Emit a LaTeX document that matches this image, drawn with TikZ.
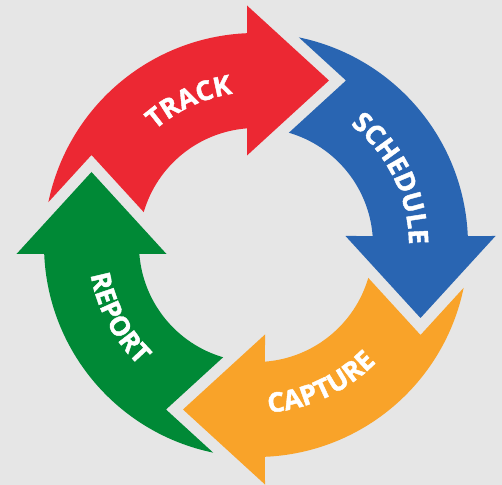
\documentclass[tikz,border=0pt]{standalone}
\usepackage{fontspec}
\setmainfont{Open Sans}[BoldFeatures={FakeBold=1.6}]
\usetikzlibrary{decorations.text}

\definecolor{trackred}{RGB}{236,40,51}
\definecolor{scheduleblue}{RGB}{41,101,178}
\definecolor{captureorange}{RGB}{249,163,41}
\definecolor{reportgreen}{RGB}{0,137,54}
\definecolor{bggray}{RGB}{230,230,230}

% one curved arrow of the cycle, head at the top pointing right
\def\cyclearrow{(168.34:212) arc[start angle=168.34,end angle=92.43,radius=212]
  -- (-9,239.5) -- (73,164.5) -- (-9,89.5)
  -- (94.41:117) arc[start angle=94.41,end angle=163.67,radius=117]
  -- (-164.5,90) -- cycle}

\begin{document}
\begin{tikzpicture}[x=1bp,y=1bp]
\tikzset{steplabel/.style={decorate,decoration={text along path,text align=center,
  text={|\color{white}\bfseries\fontsize{27}{27}\selectfont|#1}}}}

  \fill[bggray] (-256,-240) rectangle (246,245);
  \useasboundingbox (-256,-240) rectangle (246,245);

        \fill[trackred]                   \cyclearrow;
        \fill[scheduleblue,rotate=-90]    \cyclearrow;
        \fill[captureorange,rotate=-180]  \cyclearrow;
        \fill[reportgreen,rotate=-270]    \cyclearrow;

        \path[steplabel=TRACK]    (155:153) arc[start angle=155,end angle=75,radius=153];
        \path[steplabel=SCHEDULE] (66:153) arc[start angle=66,end angle=-14,radius=153];
        \path[steplabel=CAPTURE]  (-105:168) arc[start angle=-105,end angle=-25,radius=168];
        \path[steplabel=REPORT]   (168:168) arc[start angle=168,end angle=248,radius=168];

\end{tikzpicture}
\end{document}
